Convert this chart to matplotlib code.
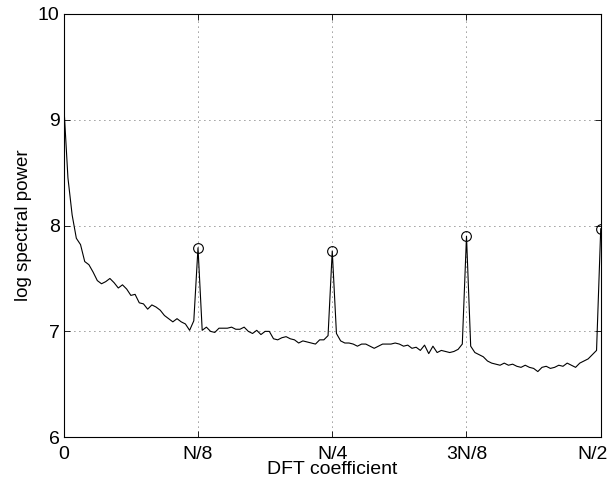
import matplotlib
matplotlib.use('Agg')
import matplotlib.pyplot as plt
import matplotlib.transforms as mtransforms
import numpy as np

# DFT coefficient index (N = 512, every 2nd coefficient up to N/2)
N = 512
k = np.arange(0, N // 2 + 1, 2)

# log spectral power
log_power = [
    9.15, 8.45, 8.10, 7.88, 7.82, 7.66, 7.63, 7.56, 7.48, 7.45,
    7.47, 7.50, 7.46, 7.41, 7.44, 7.40, 7.34, 7.35, 7.27, 7.26,
    7.21, 7.25, 7.23, 7.20, 7.15, 7.12, 7.09, 7.12, 7.09, 7.07,
    7.01, 7.10, 7.79, 7.01, 7.04, 7.00, 6.99, 7.03, 7.03, 7.03,
    7.04, 7.02, 7.02, 7.04, 7.00, 6.98, 7.01, 6.97, 7.00, 7.00,
    6.93, 6.92, 6.94, 6.95, 6.93, 6.92, 6.89, 6.91, 6.90, 6.89,
    6.88, 6.92, 6.92, 6.96, 7.76, 6.98, 6.91, 6.89, 6.89, 6.88,
    6.86, 6.88, 6.88, 6.86, 6.84, 6.86, 6.88, 6.88, 6.88, 6.89,
    6.88, 6.86, 6.87, 6.84, 6.85, 6.82, 6.87, 6.79, 6.86, 6.80,
    6.82, 6.81, 6.80, 6.81, 6.83, 6.88, 7.90, 6.86, 6.80, 6.78,
    6.76, 6.72, 6.70, 6.69, 6.68, 6.70, 6.68, 6.69, 6.67, 6.66,
    6.68, 6.66, 6.65, 6.62, 6.66, 6.67, 6.65, 6.66, 6.68, 6.67,
    6.70, 6.68, 6.66, 6.70, 6.72, 6.74, 6.78, 6.82, 7.97,
]

# marked peaks
peak_k = [N // 8, N // 4, 3 * N // 8, N // 2]
peak_vals = [7.79, 7.76, 7.90, 7.97]

tick_pos = [0, N // 8, N // 4, 3 * N // 8, N // 2]
tick_labels = ['0', 'N/8', 'N/4', '3N/8', 'N/2']
y_ticks = [6, 7, 8, 9, 10]

plt.rcParams['font.family'] = ['Liberation Sans', 'DejaVu Sans']

fig = plt.figure(figsize=(6.13, 4.82), dpi=100)
ax = fig.add_axes([0.104, 0.093, 0.876, 0.878])

ax.plot(k, log_power, color='black', linewidth=0.8)
ax.plot(peak_k, peak_vals, linestyle='none', marker='o', markersize=7,
        markerfacecolor='none', markeredgecolor='black', markeredgewidth=0.8)

ax.set_xlim(0, N // 2)
ax.set_ylim(6, 10)
ax.set_xticks(tick_pos)
ax.set_xticklabels(tick_labels)
ax.set_yticks(y_ticks)

ax.grid(True, linestyle=(0, (1, 5)), color='#333333', linewidth=0.6)
ax.tick_params(direction='in', top=True, right=True, length=4, width=0.6,
               labelsize=14)
ax.tick_params(axis='x', pad=6)
ax.tick_params(axis='y', pad=3)
for spine in ax.spines.values():
    spine.set_linewidth(0.8)

# last x label sits a little left so it stays inside the figure
last = ax.get_xticklabels()[-1]
last.set_transform(last.get_transform() +
                   mtransforms.ScaledTranslation(-8 / 100, 0, fig.dpi_scale_trans))

ax.set_xlabel('DFT coefficient', fontsize=14, labelpad=-1)
ax.set_ylabel('log spectral power', fontsize=13.5, labelpad=4)

fig.savefig('out.png', dpi=100, facecolor='white')
